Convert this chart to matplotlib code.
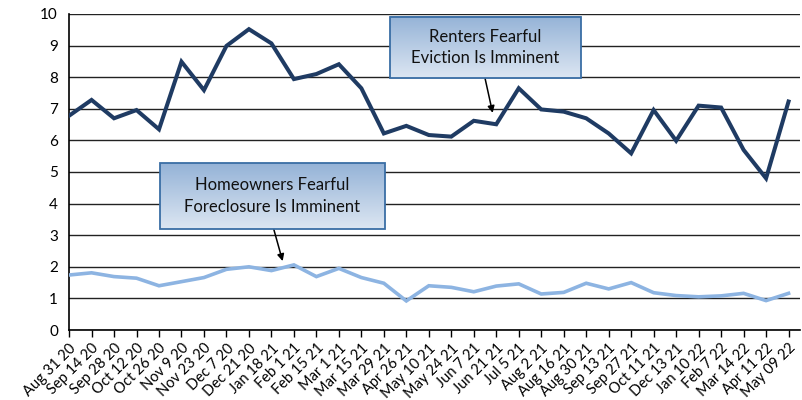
import numpy as np
import matplotlib
matplotlib.use('Agg')
from matplotlib import pyplot as plt
from matplotlib.patches import Rectangle

plt.rcParams['font.family'] = ['Lato', 'DejaVu Sans']

dates = [
    'Aug 31 20', 'Sep 14 20', 'Sep 28 20', 'Oct 12 20', 'Oct 26 20', 'Nov 9 20',
    'Nov 23 20', 'Dec 7 20', 'Dec 21 20', 'Jan 18 21', 'Feb 1 21', 'Feb 15 21',
    'Mar 1 21', 'Mar 15 21', 'Mar 29 21', 'Apr 26 21', 'May 10 21', 'May 24 21',
    'Jun 7 21', 'Jun 21 21', 'Jul 5 21', 'Aug 2 21', 'Aug 16 21', 'Aug 30 21',
    'Sep 13 21', 'Sep 27 21', 'Oct 11 21', 'Dec 13 21', 'Jan 10 22', 'Feb 7 22',
    'Mar 14 22', 'Apr 11 22', 'May 09 22',
]

renters = [6.78, 7.28, 6.70, 6.96, 6.35, 8.49, 7.59, 8.99, 9.52, 9.07, 7.94, 8.10,
           8.41, 7.65, 6.22, 6.46, 6.17, 6.12, 6.62, 6.51, 7.65, 6.98, 6.91, 6.70,
           6.22, 5.59, 6.96, 5.99, 7.10, 7.04, 5.70, 4.80, 7.23]

homeowners = [1.74, 1.81, 1.69, 1.64, 1.40, 1.53, 1.66, 1.92, 2.00, 1.88, 2.06, 1.69,
              1.95, 1.66, 1.48, 0.92, 1.40, 1.35, 1.21, 1.39, 1.46, 1.14, 1.19, 1.48,
              1.30, 1.50, 1.18, 1.09, 1.05, 1.08, 1.16, 0.93, 1.16]

x = np.arange(len(dates))

fig = plt.figure(figsize=(8.03, 4.0), dpi=100)
ax = fig.add_axes([0.086, 0.175, 0.91, 0.79])

ax.plot(x, renters, color='#1f3b63', lw=2.9, zorder=3, solid_joinstyle='miter')
ax.plot(x, homeowners, color='#8db4e2', lw=2.6, zorder=3, solid_joinstyle='miter')

ax.set_ylim(0, 10)
ax.set_yticks(range(0, 11))
ax.yaxis.grid(True, color='#222222', lw=1.0)
ax.set_axisbelow(True)
ax.tick_params(axis='y', length=0, labelsize=11, pad=8)

ax.set_xticks(x)
ax.set_xticklabels(dates, rotation=45, ha='right', rotation_mode='anchor', fontsize=10.5)
ax.tick_params(axis='x', length=5, width=1, direction='out', pad=3)

for side in ['top', 'right']:
    ax.spines[side].set_visible(False)
ax.spines['left'].set_linewidth(1.2)
ax.spines['bottom'].set_linewidth(1.2)

grad = np.linspace(0, 1, 100).reshape(-1, 1)
cmap = matplotlib.colors.LinearSegmentedColormap.from_list('box', ['#95b3d7', '#dce6f2'])


def callout(x0, x1, y0, y1, text, tip, base):
    ax.imshow(grad, extent=[x0, x1, y0, y1], cmap=cmap, aspect='auto',
              origin='upper', zorder=5)
    ax.add_patch(Rectangle((x0, y0), x1 - x0, y1 - y0, fill=False,
                           edgecolor='#3a6ea5', lw=1.3, zorder=6))
    ax.text((x0 + x1) / 2, (y0 + y1) / 2, text, ha='center', va='center',
            fontsize=12, color='#111111', linespacing=1.45, zorder=7)
    ax.annotate('', xy=tip, xytext=base, zorder=4,
                arrowprops=dict(arrowstyle='-|>', color='black', lw=1.1,
                                mutation_scale=10, shrinkA=0, shrinkB=0))


callout(14.27, 22.76, 7.97, 9.91, 'Renters Fearful\nEviction Is Imminent',
        (18.84, 6.87), (18.5, 7.97))
callout(4.04, 14.04, 3.20, 5.28, 'Homeowners Fearful\nForeclosure Is Imminent',
        (9.5, 2.18), (9.1, 3.20))

ax.set_xlim(0, 32.5)
ax.set_ylim(0, 10)

fig.savefig('out.png', dpi=100)
